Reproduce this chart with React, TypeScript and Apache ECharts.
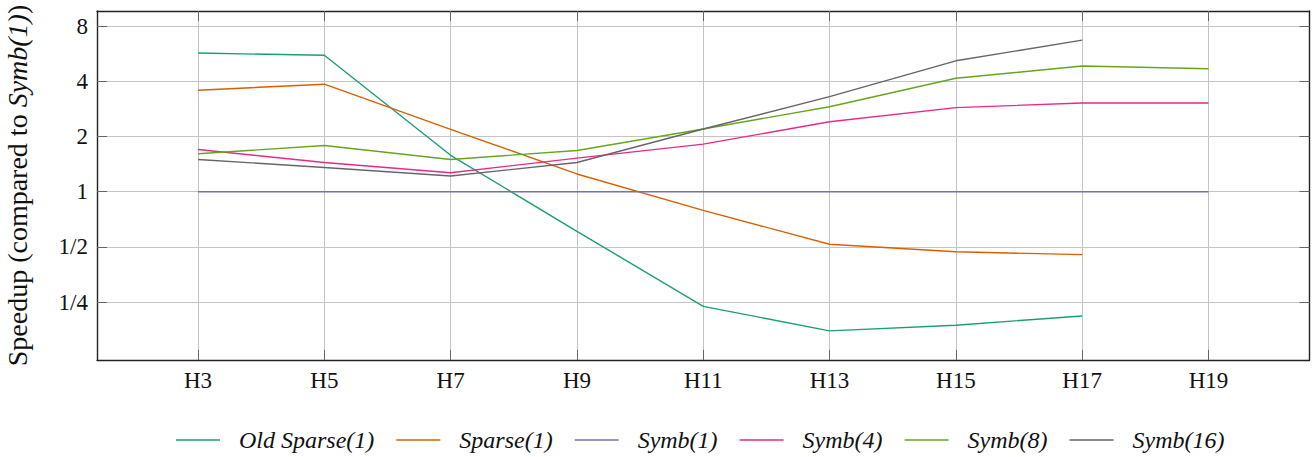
import React, { useEffect, useRef } from "react";
import * as echarts from "echarts";

const categories = [3, 5, 7, 9, 11, 13, 15, 17, 19];
const tickLabels = ["H3", "H5", "H7", "H9", "H11", "H13", "H15", "H17", "H19"];
const yTickValues = [0.25, 0.5, 1, 2, 4, 8];
const yTickLabels = ["1/4", "1/2", "1", "2", "4", "8"];

const seriesNames = ["Old Sparse(1)", "Sparse(1)", "Symb(1)", "Symb(4)", "Symb(8)", "Symb(16)"];
const seriesColors = ["#1b9e77", "#d95f02", "#7570b3", "#e7298a", "#66a61e", "#666666"];

const oldSparse1 = [5.71, 5.55, 1.58, 0.608, 0.237, 0.174, 0.187, 0.21];
const sparse1 = [3.58, 3.86, 2.19, 1.25, 0.791, 0.517, 0.47, 0.454];
const symb1 = [1, 1, 1, 1, 1, 1, 1, 1, 1];
const symb4 = [1.7, 1.444, 1.269, 1.525, 1.818, 2.41, 2.876, 3.05, 3.05];
const symb8 = [1.61, 1.786, 1.5, 1.678, 2.2, 2.91, 4.16, 4.85, 4.69];
const symb16 = [1.5, 1.356, 1.218, 1.444, 2.2, 3.3, 5.18, 6.72];

const allSeries = [oldSparse1, sparse1, symb1, symb4, symb8, symb16];

const FONT = "Liberation Serif";

export default function App() {
  const ref = useRef<HTMLDivElement>(null);
  useEffect(() => {
    if (!ref.current) return;
    const chart = echarts.init(ref.current, undefined, { renderer: "svg" });

    const logs = allSeries.flat().map((v) => Math.log2(v));
    const lo = Math.min(...logs);
    const hi = Math.max(...logs);
    const yr = hi - lo;
    const yMin = lo - 0.1 * yr;
    const yMax = hi + 0.1 * yr;
    const xr = categories[categories.length - 1] - categories[0];
    const xMin = categories[0] - 0.1 * xr;
    const xMax = categories[categories.length - 1] + 0.1 * xr;

    const yLogTicks = yTickValues.map((v) => Math.log2(v));
    const yLabelFor = (v: number) => {
      const i = yLogTicks.findIndex((t) => Math.abs(t - v) < 1e-6);
      return i >= 0 ? yTickLabels[i] : "";
    };
    const xLabelFor = (v: number) => {
      const i = categories.findIndex((c) => Math.abs(c - v) < 1e-6);
      return i >= 0 ? tickLabels[i] : "";
    };

    const axisLine = { show: true, onZero: false, lineStyle: { color: "#222", width: 1.4 } };
    const tick = { show: true, inside: true, length: 10, lineStyle: { color: "#666", width: 1 } };
    const gridLine = { show: true, lineStyle: { color: "#c4c4c4", width: 1 } };

    chart.setOption({
      animation: false,
      grid: {
        left: 97,
        right: 2.5,
        top: 11,
        bottom: 97,
        containLabel: false,
        outerBoundsMode: "none",
      },
      xAxis: [
        {
          type: "value",
          min: xMin,
          max: xMax,
          position: "bottom",
          axisLine,
          axisTick: { ...tick, customValues: categories },
          splitLine: gridLine,
          axisLabel: {
            customValues: categories,
            formatter: xLabelFor,
            color: "#111",
            fontFamily: FONT,
            fontSize: 23,
            margin: 9,
          },
        },
        {
          type: "value",
          min: xMin,
          max: xMax,
          position: "top",
          axisLine,
          axisTick: { ...tick, customValues: categories },
          splitLine: { show: false },
          axisLabel: { show: false },
        },
      ],
      yAxis: [
        {
          type: "value",
          min: yMin,
          max: yMax,
          position: "left",
          axisLine,
          axisTick: { ...tick, customValues: yLogTicks },
          splitLine: gridLine,
          axisLabel: {
            customValues: yLogTicks,
            formatter: yLabelFor,
            color: "#111",
            fontFamily: FONT,
            fontSize: 23,
            margin: 9,
          },
          name: "Speedup (compared to {i|Symb(1)})",
          nameLocation: "middle",
          nameGap: 66,
          nameRotate: 90,
          nameTextStyle: {
            color: "#111",
            fontFamily: FONT,
            fontSize: 28,
            rich: {
              i: { fontFamily: FONT, fontSize: 28, fontStyle: "italic", color: "#111" },
            },
          },
        },
        {
          type: "value",
          min: yMin,
          max: yMax,
          position: "right",
          axisLine,
          axisTick: { ...tick, customValues: yLogTicks },
          splitLine: { show: false },
          axisLabel: { show: false },
        },
      ],
      legend: {
        bottom: 0,
        left: 171,
        icon: "rect",
        itemWidth: 44,
        itemHeight: 1.5,
        itemGap: 22,
        data: seriesNames,
        textStyle: {
          fontFamily: FONT,
          fontStyle: "italic",
          fontSize: 24,
          color: "#111",
          padding: [0, 0, 0, 14],
        },
      },
      series: allSeries.map((vals, si) => ({
        name: seriesNames[si],
        type: "line",
        xAxisIndex: 0,
        yAxisIndex: 0,
        symbol: "none",
        lineStyle: { color: seriesColors[si], width: 1.4 },
        itemStyle: { color: seriesColors[si] },
        data: vals.map((v, i) => [categories[i], Math.log2(v)]),
      })),
    });
    return () => chart.dispose();
  }, []);
  return (
    <div
      ref={ref}
      style={{ position: "fixed", left: 0, top: 0, width: 1312, height: 457, background: "#fff" }}
    />
  );
}
